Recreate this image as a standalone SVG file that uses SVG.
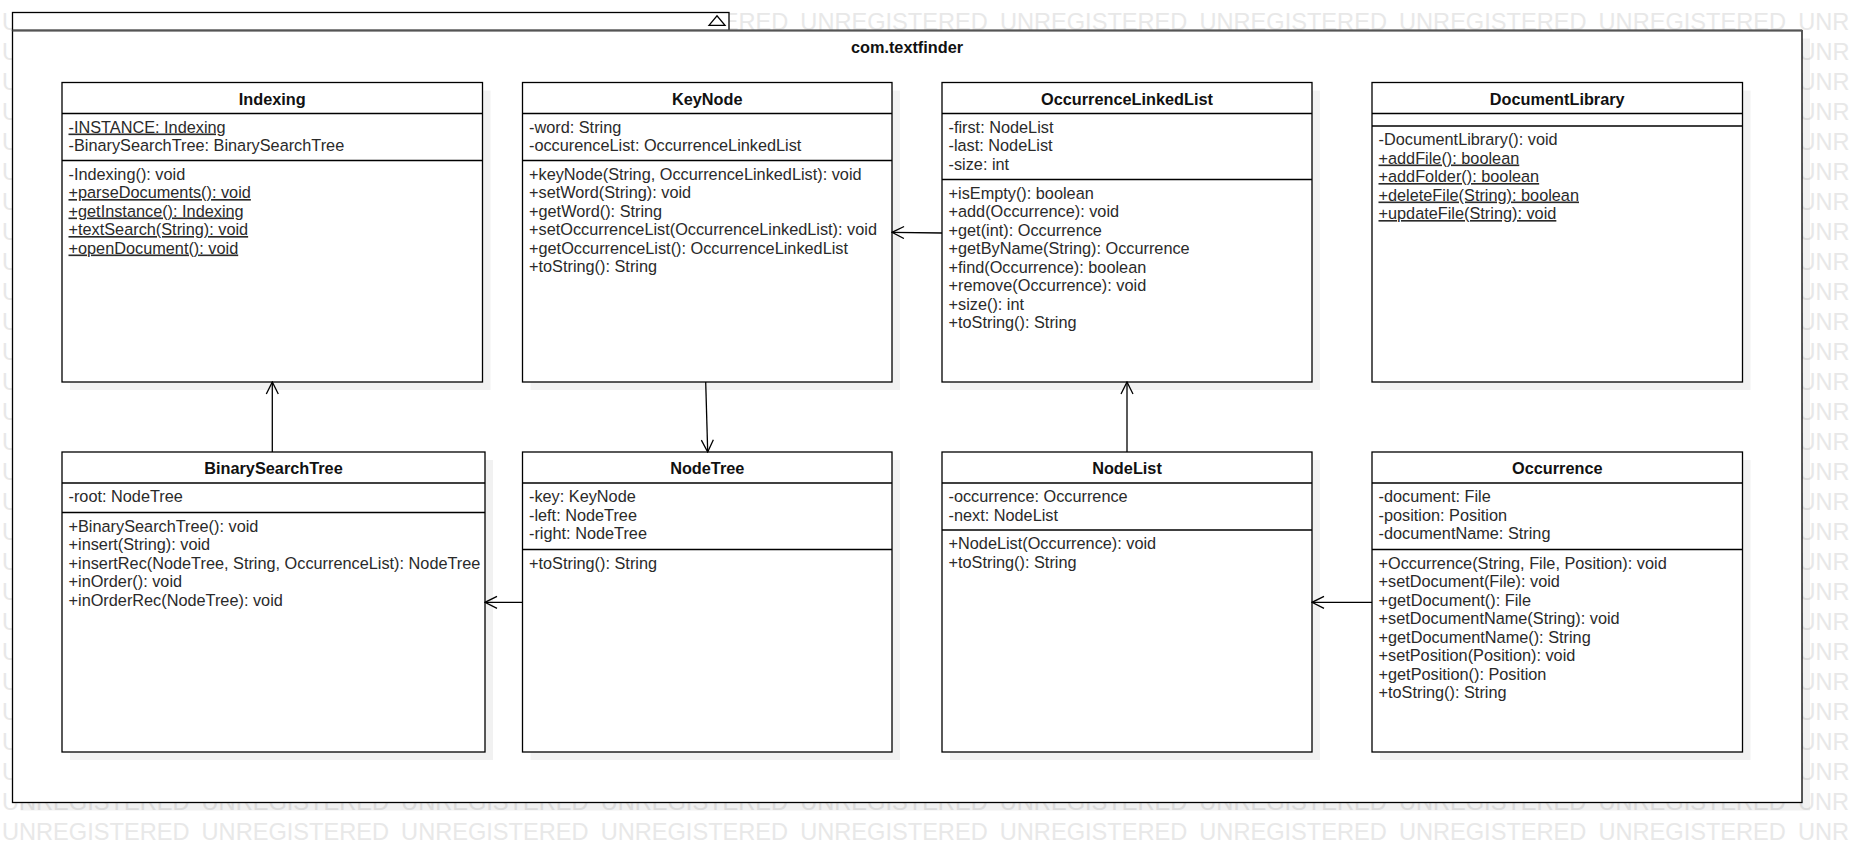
<svg xmlns="http://www.w3.org/2000/svg" width="1852" height="852" viewBox="0 0 1852 852">
<style>
.wm{font-family:"Liberation Sans",Arial,sans-serif;font-size:23.6px;fill:#e8e8e8;word-spacing:5.54px}
.sh{fill:#000;fill-opacity:0.055}
.box{fill:#fff;stroke:#000;stroke-width:1.3}
.dv{stroke:#000;stroke-width:1.3}
.t{font-family:"Liberation Sans",Arial,sans-serif;font-size:16.3px;font-weight:bold;text-anchor:middle;fill:#111}
.m{font-family:"Liberation Sans",Arial,sans-serif;font-size:16.3px;fill:#2a2a2a}
.u{text-decoration:underline}
.c{stroke:#000;stroke-width:1.3;fill:none;marker-end:url(#open)}
</style>
<defs>
<marker id="open" viewBox="0 0 14 14" refX="13" refY="7" markerWidth="14" markerHeight="14" markerUnits="userSpaceOnUse" orient="auto">
<path d="M1,1 L13,7 L1,13" fill="none" stroke="#000" stroke-width="1.3"/>
</marker>
</defs>
<rect x="0" y="0" width="1852" height="852" fill="#fff"/>
<g id="watermark">
<text class="wm" x="2" y="29.5">U</text>
<text class="wm" x="600.8" y="29.5">UNREGISTERED UNREGISTERED UNREGISTERED UNREGISTERED UNREGISTERED UNREGISTERED UNR</text>
<text class="wm" x="2" y="59.5">U</text><text class="wm" x="1798.4" y="59.5">UNR</text>
<text class="wm" x="2" y="89.5">U</text><text class="wm" x="1798.4" y="89.5">UNR</text>
<text class="wm" x="2" y="119.5">U</text><text class="wm" x="1798.4" y="119.5">UNR</text>
<text class="wm" x="2" y="149.5">U</text><text class="wm" x="1798.4" y="149.5">UNR</text>
<text class="wm" x="2" y="179.5">U</text><text class="wm" x="1798.4" y="179.5">UNR</text>
<text class="wm" x="2" y="209.5">U</text><text class="wm" x="1798.4" y="209.5">UNR</text>
<text class="wm" x="2" y="239.5">U</text><text class="wm" x="1798.4" y="239.5">UNR</text>
<text class="wm" x="2" y="269.5">U</text><text class="wm" x="1798.4" y="269.5">UNR</text>
<text class="wm" x="2" y="299.5">U</text><text class="wm" x="1798.4" y="299.5">UNR</text>
<text class="wm" x="2" y="329.5">U</text><text class="wm" x="1798.4" y="329.5">UNR</text>
<text class="wm" x="2" y="359.5">U</text><text class="wm" x="1798.4" y="359.5">UNR</text>
<text class="wm" x="2" y="389.5">U</text><text class="wm" x="1798.4" y="389.5">UNR</text>
<text class="wm" x="2" y="419.5">U</text><text class="wm" x="1798.4" y="419.5">UNR</text>
<text class="wm" x="2" y="449.5">U</text><text class="wm" x="1798.4" y="449.5">UNR</text>
<text class="wm" x="2" y="479.5">U</text><text class="wm" x="1798.4" y="479.5">UNR</text>
<text class="wm" x="2" y="509.5">U</text><text class="wm" x="1798.4" y="509.5">UNR</text>
<text class="wm" x="2" y="539.5">U</text><text class="wm" x="1798.4" y="539.5">UNR</text>
<text class="wm" x="2" y="569.5">U</text><text class="wm" x="1798.4" y="569.5">UNR</text>
<text class="wm" x="2" y="599.5">U</text><text class="wm" x="1798.4" y="599.5">UNR</text>
<text class="wm" x="2" y="629.5">U</text><text class="wm" x="1798.4" y="629.5">UNR</text>
<text class="wm" x="2" y="659.5">U</text><text class="wm" x="1798.4" y="659.5">UNR</text>
<text class="wm" x="2" y="689.5">U</text><text class="wm" x="1798.4" y="689.5">UNR</text>
<text class="wm" x="2" y="719.5">U</text><text class="wm" x="1798.4" y="719.5">UNR</text>
<text class="wm" x="2" y="749.5">U</text><text class="wm" x="1798.4" y="749.5">UNR</text>
<text class="wm" x="2" y="779.5">U</text><text class="wm" x="1798.4" y="779.5">UNR</text>
<text class="wm" x="2" y="809.5">UNREGISTERED UNREGISTERED UNREGISTERED UNREGISTERED UNREGISTERED UNREGISTERED UNREGISTERED UNREGISTERED UNREGISTERED UNR</text>
<text class="wm" x="2" y="839.5">UNREGISTERED UNREGISTERED UNREGISTERED UNREGISTERED UNREGISTERED UNREGISTERED UNREGISTERED UNREGISTERED UNREGISTERED UNR</text>
</g>
<g id="package">
<rect class="sh" x="20.5" y="38.5" width="1789.5" height="772"/>
<rect class="sh" x="721" y="20.5" width="8" height="10"/>
<rect class="box" x="12.5" y="12.5" width="716.5" height="18"/>
<rect class="box" x="12.5" y="30.5" width="1789.5" height="772"/>
<line x1="12.5" y1="30.5" x2="1802" y2="30.5" stroke="#555" stroke-width="2"/>
<polygon points="709,25.3 717,15.8 725,25.3" fill="#fff" stroke="#000" stroke-width="1.3"/>
<text class="t" x="907" y="53.3">com.textfinder</text>
</g>
<g id="Indexing">
<rect class="sh" x="70" y="90.5" width="420.5" height="299.5"/>
<rect class="box" x="62" y="82.5" width="420.5" height="299.5"/>
<line class="dv" x1="62" y1="113.5" x2="482.5" y2="113.5"/>
<line class="dv" x1="62" y1="160.5" x2="482.5" y2="160.5"/>
<text class="t" x="272.25" y="104.5">Indexing</text>
<text class="m u" x="68.5" y="132.5">-INSTANCE: Indexing</text>
<text class="m" x="68.5" y="151">-BinarySearchTree: BinarySearchTree</text>
<text class="m" x="68.5" y="179.5">-Indexing(): void</text>
<text class="m u" x="68.5" y="198">+parseDocuments(): void</text>
<text class="m u" x="68.5" y="216.5">+getInstance(): Indexing</text>
<text class="m u" x="68.5" y="235">+textSearch(String): void</text>
<text class="m u" x="68.5" y="253.5">+openDocument(): void</text>
</g>
<g id="KeyNode">
<rect class="sh" x="530.5" y="90.5" width="369.5" height="299.5"/>
<rect class="box" x="522.5" y="82.5" width="369.5" height="299.5"/>
<line class="dv" x1="522.5" y1="113.5" x2="892" y2="113.5"/>
<line class="dv" x1="522.5" y1="160.5" x2="892" y2="160.5"/>
<text class="t" x="707.25" y="104.5">KeyNode</text>
<text class="m" x="529" y="132.5">-word: String</text>
<text class="m" x="529" y="151">-occurenceList: OccurrenceLinkedList</text>
<text class="m" x="529" y="179.5">+keyNode(String, OccurrenceLinkedList): void</text>
<text class="m" x="529" y="198">+setWord(String): void</text>
<text class="m" x="529" y="216.5">+getWord(): String</text>
<text class="m" x="529" y="235">+setOccurrenceList(OccurrenceLinkedList): void</text>
<text class="m" x="529" y="253.5">+getOccurrenceList(): OccurrenceLinkedList</text>
<text class="m" x="529" y="272">+toString(): String</text>
</g>
<g id="OccurrenceLinkedList">
<rect class="sh" x="950" y="90.5" width="370" height="299.5"/>
<rect class="box" x="942" y="82.5" width="370" height="299.5"/>
<line class="dv" x1="942" y1="113.5" x2="1312" y2="113.5"/>
<line class="dv" x1="942" y1="179.5" x2="1312" y2="179.5"/>
<text class="t" x="1127" y="104.5">OccurrenceLinkedList</text>
<text class="m" x="948.5" y="132.5">-first: NodeList</text>
<text class="m" x="948.5" y="151">-last: NodeList</text>
<text class="m" x="948.5" y="169.5">-size: int</text>
<text class="m" x="948.5" y="198.5">+isEmpty(): boolean</text>
<text class="m" x="948.5" y="217">+add(Occurrence): void</text>
<text class="m" x="948.5" y="235.5">+get(int): Occurrence</text>
<text class="m" x="948.5" y="254">+getByName(String): Occurrence</text>
<text class="m" x="948.5" y="272.5">+find(Occurrence): boolean</text>
<text class="m" x="948.5" y="291">+remove(Occurrence): void</text>
<text class="m" x="948.5" y="309.5">+size(): int</text>
<text class="m" x="948.5" y="328">+toString(): String</text>
</g>
<g id="DocumentLibrary">
<rect class="sh" x="1380" y="90.5" width="370.5" height="299.5"/>
<rect class="box" x="1372" y="82.5" width="370.5" height="299.5"/>
<line class="dv" x1="1372" y1="113.5" x2="1742.5" y2="113.5"/>
<line class="dv" x1="1372" y1="126" x2="1742.5" y2="126"/>
<text class="t" x="1557.25" y="104.5">DocumentLibrary</text>
<text class="m" x="1378.5" y="145">-DocumentLibrary(): void</text>
<text class="m u" x="1378.5" y="163.5">+addFile(): boolean</text>
<text class="m u" x="1378.5" y="182">+addFolder(): boolean</text>
<text class="m u" x="1378.5" y="200.5">+deleteFile(String): boolean</text>
<text class="m u" x="1378.5" y="219">+updateFile(String): void</text>
</g>
<g id="BinarySearchTree">
<rect class="sh" x="70" y="460" width="423" height="300"/>
<rect class="box" x="62" y="452" width="423" height="300"/>
<line class="dv" x1="62" y1="483" x2="485" y2="483"/>
<line class="dv" x1="62" y1="512.5" x2="485" y2="512.5"/>
<text class="t" x="273.5" y="474">BinarySearchTree</text>
<text class="m" x="68.5" y="502">-root: NodeTree</text>
<text class="m" x="68.5" y="531.5">+BinarySearchTree(): void</text>
<text class="m" x="68.5" y="550">+insert(String): void</text>
<text class="m" x="68.5" y="568.5">+insertRec(NodeTree, String, OccurrenceList): NodeTree</text>
<text class="m" x="68.5" y="587">+inOrder(): void</text>
<text class="m" x="68.5" y="605.5">+inOrderRec(NodeTree): void</text>
</g>
<g id="NodeTree">
<rect class="sh" x="530.5" y="460" width="369.5" height="300"/>
<rect class="box" x="522.5" y="452" width="369.5" height="300"/>
<line class="dv" x1="522.5" y1="483" x2="892" y2="483"/>
<line class="dv" x1="522.5" y1="549.5" x2="892" y2="549.5"/>
<text class="t" x="707.25" y="474">NodeTree</text>
<text class="m" x="529" y="502">-key: KeyNode</text>
<text class="m" x="529" y="520.5">-left: NodeTree</text>
<text class="m" x="529" y="539">-right: NodeTree</text>
<text class="m" x="529" y="568.5">+toString(): String</text>
</g>
<g id="NodeList">
<rect class="sh" x="950" y="460" width="370" height="300"/>
<rect class="box" x="942" y="452" width="370" height="300"/>
<line class="dv" x1="942" y1="483" x2="1312" y2="483"/>
<line class="dv" x1="942" y1="530" x2="1312" y2="530"/>
<text class="t" x="1127" y="474">NodeList</text>
<text class="m" x="948.5" y="502">-occurrence: Occurrence</text>
<text class="m" x="948.5" y="520.5">-next: NodeList</text>
<text class="m" x="948.5" y="549">+NodeList(Occurrence): void</text>
<text class="m" x="948.5" y="567.5">+toString(): String</text>
</g>
<g id="Occurrence">
<rect class="sh" x="1380" y="460" width="370.5" height="300"/>
<rect class="box" x="1372" y="452" width="370.5" height="300"/>
<line class="dv" x1="1372" y1="483" x2="1742.5" y2="483"/>
<line class="dv" x1="1372" y1="549.5" x2="1742.5" y2="549.5"/>
<text class="t" x="1557.25" y="474">Occurrence</text>
<text class="m" x="1378.5" y="502">-document: File</text>
<text class="m" x="1378.5" y="520.5">-position: Position</text>
<text class="m" x="1378.5" y="539">-documentName: String</text>
<text class="m" x="1378.5" y="568.5">+Occurrence(String, File, Position): void</text>
<text class="m" x="1378.5" y="587">+setDocument(File): void</text>
<text class="m" x="1378.5" y="605.5">+getDocument(): File</text>
<text class="m" x="1378.5" y="624">+setDocumentName(String): void</text>
<text class="m" x="1378.5" y="642.5">+getDocumentName(): String</text>
<text class="m" x="1378.5" y="661">+setPosition(Position): void</text>
<text class="m" x="1378.5" y="679.5">+getPosition(): Position</text>
<text class="m" x="1378.5" y="698">+toString(): String</text>
</g>
<g id="connectors">
<line class="c" x1="272.3" y1="452" x2="272.3" y2="382"/>
<line class="c" x1="705.7" y1="382" x2="707.7" y2="452"/>
<line class="c" x1="942" y1="233" x2="892" y2="232.3"/>
<line class="c" x1="522.5" y1="602.3" x2="485" y2="602.3"/>
<line class="c" x1="1127" y1="452" x2="1127" y2="382"/>
<line class="c" x1="1372" y1="602.3" x2="1312" y2="602.3"/>
</g>
</svg>
